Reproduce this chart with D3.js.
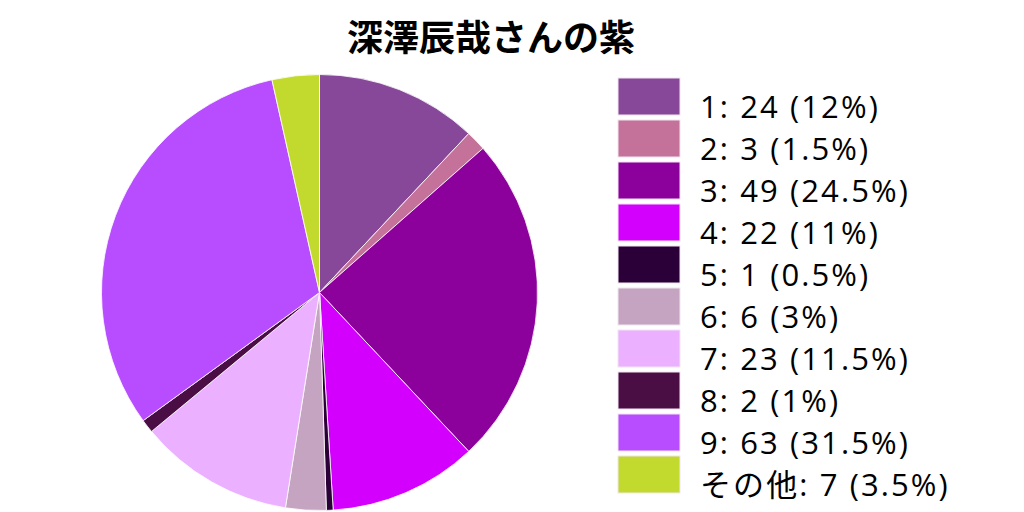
<!DOCTYPE html>
<html>
<head>
<meta charset="utf-8">
<script src="https://cdn.jsdelivr.net/npm/d3@7"></script>
<style>
  body { margin: 0; background: #fff; }
  svg { display: block; }
</style>
</head>
<body>
<div id="chart"></div>
<script>
// data
let labels = ["1", "2", "3", "4", "5", "6", "7", "8", "9", "その他"];
let counts = [24, 3, 49, 22, 1, 6, 23, 2, 63, 7];
let percents = ["12%", "1.5%", "24.5%", "11%", "0.5%", "3%", "11.5%", "1%", "31.5%", "3.5%"];
let colors = ["#874899", "#c47299", "#8c009b", "#d400fe", "#2b0038",
              "#c4a4c0", "#ebb0ff", "#4a0e45", "#b84dff", "#c2d92e"];
let title = "深澤辰哉さんの紫";

let width = 1024, height = 512;
let cx = 319.5, cy = 292.5, radius = 218;

const svg = d3.select("#chart").append("svg")
    .attr("width", width)
    .attr("height", height);

svg.append("text")
    .attr("x", 491)
    .attr("y", 51)
    .attr("text-anchor", "middle")
    .style("font-family", "'Noto Sans CJK JP', 'Noto Sans', sans-serif")
    .style("font-weight", "bold")
    .style("font-size", "36px")
    .text(title);

let data = labels.map((l, i) => ({label: l, count: counts[i], pct: percents[i], color: colors[i]}));

let pie = d3.pie()
    .value(d => d.count)
    .sort(null);

let arc = d3.arc()
    .innerRadius(0)
    .outerRadius(radius);

svg.append("g")
    .attr("transform", `translate(${cx},${cy})`)
    .selectAll("path")
    .data(pie(data))
    .join("path")
    .attr("d", arc)
    .attr("fill", d => d.data.color)
    .attr("stroke", "#fff")
    .attr("stroke-width", 0.8);

//legend
let legendY = d3.scaleBand()
    .domain(labels)
    .range([78, 78 + 42 * labels.length]);

let legend = svg.append("g")
    .selectAll("g")
    .data(data)
    .join("g")
    .attr("transform", d => `translate(618,${legendY(d.label)})`);

legend.append("rect")
    .attr("width", 62)
    .attr("height", 37)
    .attr("fill", d => d.color)
    .attr("stroke", "#f2e6f2")
    .attr("stroke-width", 1);

legend.append("text")
    .attr("x", 82)
    .attr("y", 40)
    .style("font-family", "'Open Sans', 'Noto Sans CJK JP', sans-serif")
    .style("font-size", "31px")
    .style("letter-spacing", "2.1px")
    .text(d => `${d.label}: ${d.count} (${d.pct})`);
</script>
</body>
</html>
